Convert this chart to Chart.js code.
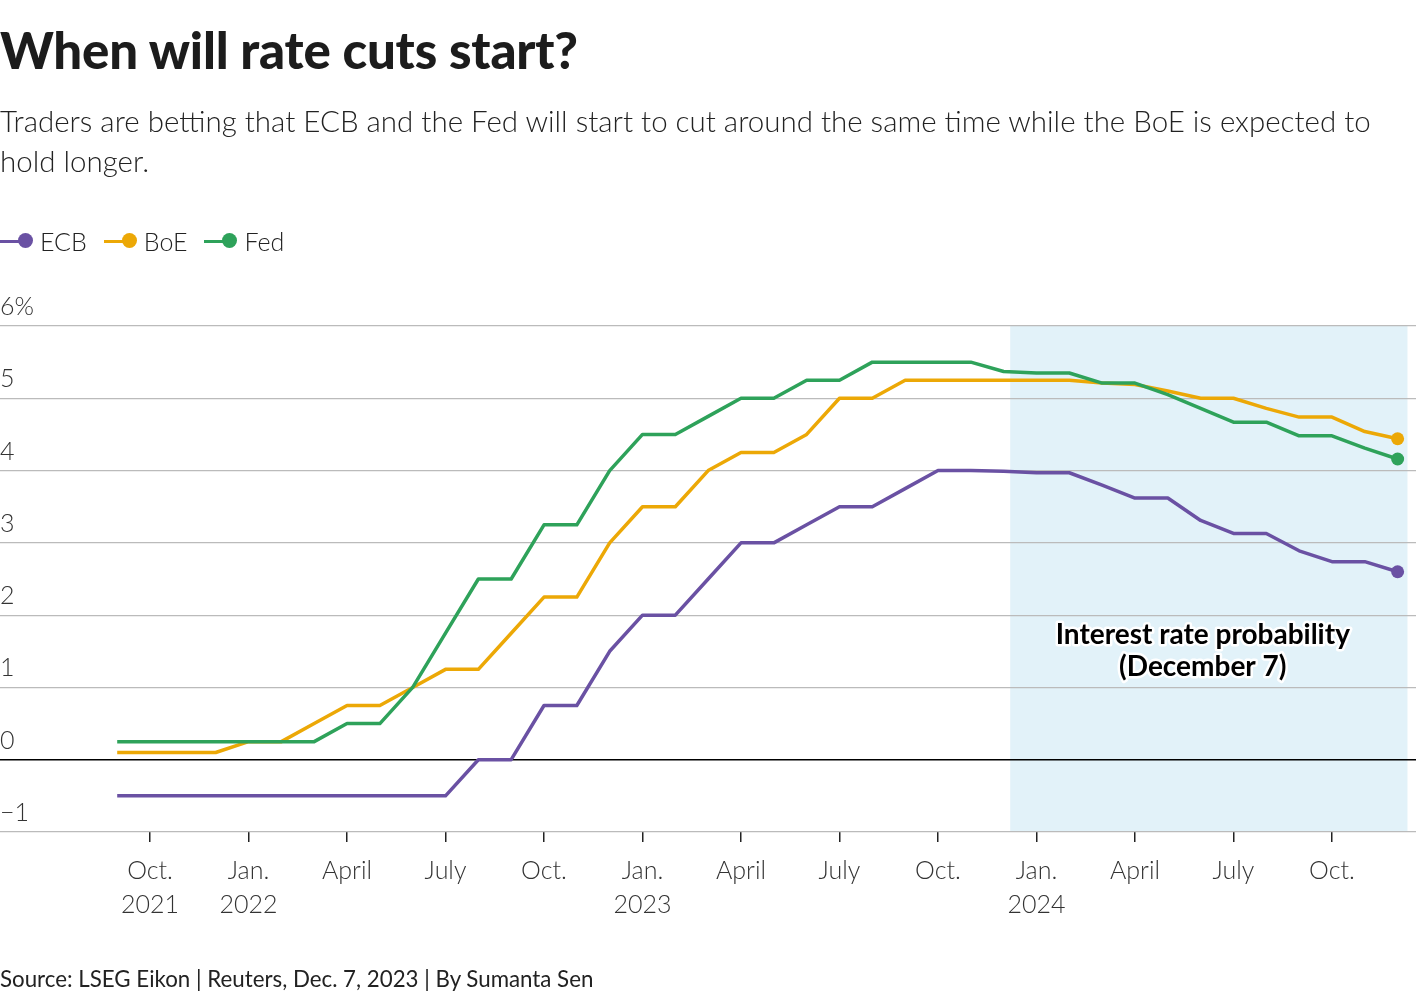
<!DOCTYPE html>
<html>
<head>
<meta charset="utf-8">
<script src="https://cdn.jsdelivr.net/npm/chart.js@4.4.1/dist/chart.umd.min.js"></script>
<style>
  html, body { margin: 0; padding: 0; background: #fff; }
  body { width: 1420px; height: 1000px; position: relative; overflow: hidden; font-family: Lato, "Noto Sans", sans-serif; color: #222; }
  #title { position: absolute; left: 0; top: 20px; font-size: 51px; font-weight: 900; color: #1c1c1c; line-height: 60px; white-space: nowrap; letter-spacing: -0.2px; }
  #subtitle { position: absolute; left: 0; top: 101px; width: 1410px; font-size: 29.5px; font-weight: 300; line-height: 40px; color: #222; }
  #legend { position: absolute; left: 0; top: 226px; display: flex; align-items: center; font-size: 25px; font-weight: 300; color: #222; }
  .item { display: flex; align-items: center; margin-right: 17px; }
  .mk { position: relative; width: 33px; height: 16px; margin-right: 7px; }
  .mk .ln { position: absolute; left: 0; top: 6.5px; width: 26px; height: 3.5px; }
  .mk .dt { position: absolute; left: 18px; top: 0; width: 15px; height: 15px; border-radius: 50%; }
  #source { position: absolute; left: 0; top: 965px; font-size: 22.3px; font-weight: 400; color: #222; white-space: nowrap; }
  #c { position: absolute; left: 0; top: 0; }
</style>
</head>
<body>
<canvas id="c" width="1420" height="1000"></canvas>
<div id="title">When will rate cuts start?</div>
<div id="subtitle">Traders are betting that ECB and the Fed will start to cut around the same time while the BoE is expected to hold longer.</div>
<div id="legend"></div>
<div id="source">Source: LSEG Eikon | Reuters, Dec. 7, 2023 | By Sumanta Sen</div>
<script>
// ---- Data ----
const months = ['2021-09','2021-10','2021-11','2021-12','2022-01','2022-02','2022-03','2022-04','2022-05','2022-06',
  '2022-07','2022-08','2022-09','2022-10','2022-11','2022-12','2023-01','2023-02','2023-03','2023-04',
  '2023-05','2023-06','2023-07','2023-08','2023-09','2023-10','2023-11','2023-12','2024-01','2024-02',
  '2024-03','2024-04','2024-05','2024-06','2024-07','2024-08','2024-09','2024-10','2024-11','2024-12'];
const ecb = [-0.5,-0.5,-0.5,-0.5,-0.5,-0.5,-0.5,-0.5,-0.5,-0.5,
  -0.5,0,0,0.75,0.75,1.5,2.0,2.0,2.5,3.0,
  3.0,3.25,3.5,3.5,3.75,4.0,4.0,3.99,3.97,3.97,
  3.8,3.62,3.62,3.31,3.13,3.13,2.89,2.74,2.74,2.6];
const boe = [0.1,0.1,0.1,0.1,0.25,0.25,0.5,0.75,0.75,1.0,
  1.25,1.25,1.75,2.25,2.25,3.0,3.5,3.5,4.0,4.25,
  4.25,4.5,5.0,5.0,5.25,5.25,5.25,5.25,5.25,5.25,
  5.21,5.19,5.1,5.0,5.0,4.86,4.74,4.74,4.54,4.44];
const fed = [0.25,0.25,0.25,0.25,0.25,0.25,0.25,0.5,0.5,1.0,
  1.75,2.5,2.5,3.25,3.25,4.0,4.5,4.5,4.75,5.0,
  5.0,5.25,5.25,5.5,5.5,5.5,5.5,5.37,5.35,5.35,
  5.21,5.21,5.05,4.86,4.67,4.67,4.48,4.48,4.31,4.16];
const seriesNames = ['ECB','BoE','Fed'];
const seriesColors = ['#6a51a3','#eca806','#2ea25a'];
const tickMonths = ['2021-10','2022-01','2022-04','2022-07','2022-10','2023-01','2023-04','2023-07','2023-10','2024-01','2024-04','2024-07','2024-10'];
const tickLabels = [['Oct.','2021'],['Jan.','2022'],'April','July','Oct.',['Jan.','2023'],'April','July','Oct.',['Jan.','2024'],'April','July','Oct.'];
const yTicks = [-1,0,1,2,3,4,5,6];
const shadeFrom = '2023-12-07';
const shadeTo = '2024-12-10';
const annotationLines = ['Interest rate probability','(December 7)'];
const annotationAt = {date: '2024-06-03', value: 1.5};

// ---- helpers ----
function monthIndex(s) {
  const p = s.split('-').map(Number);
  let v = (p[0] - 2021) * 12 + (p[1] - 1);
  if (p.length > 2) v += (p[2] - 1) / 30;
  return v;
}
const xs = months.map(monthIndex);
const tickVals = tickMonths.map(monthIndex);
const toPts = arr => arr.map((v, i) => ({x: xs[i], y: v}));

// legend
const lg = document.getElementById('legend');
seriesNames.forEach((n, i) => {
  const it = document.createElement('div'); it.className = 'item';
  it.innerHTML = '<span class="mk"><span class="ln" style="background:' + seriesColors[i] + '"></span><span class="dt" style="background:' + seriesColors[i] + '"></span></span><span>' + n + '</span>';
  lg.appendChild(it);
});

const shadePlugin = {
  id: 'shade',
  beforeDraw(chart) {
    const {ctx, scales: {x, y}} = chart;
    const x0 = x.getPixelForValue(monthIndex(shadeFrom));
    const x1 = x.getPixelForValue(monthIndex(shadeTo));
    const y0 = y.getPixelForValue(y.max), y1 = y.getPixelForValue(y.min);
    ctx.save();
    ctx.fillStyle = '#e2f2f9';
    ctx.fillRect(x0, y0, x1 - x0, y1 - y0);
    ctx.restore();
  },
  afterDraw(chart) {
    const {ctx, scales: {x, y}} = chart;
    const cx = x.getPixelForValue(monthIndex(annotationAt.date));
    const cy = y.getPixelForValue(annotationAt.value);
    ctx.save();
    ctx.font = 'bold 28px Lato';
    ctx.textAlign = 'center';
    ctx.textBaseline = 'middle';
    ctx.lineJoin = 'round';
    annotationLines.forEach((t, i) => {
      const yy = cy + (i - 0.5) * 32;
      ctx.strokeStyle = '#fff'; ctx.lineWidth = 5; ctx.strokeText(t, cx, yy);
      ctx.fillStyle = '#000'; ctx.fillText(t, cx, yy);
    });
    ctx.restore();
  }
};

Chart.defaults.font.family = 'Lato';
const mkDs = (data, i) => ({
  label: seriesNames[i], data: toPts(data), borderColor: seriesColors[i], backgroundColor: seriesColors[i],
  borderWidth: 3.5, tension: 0, fill: false,
  pointRadius: data.map((_, j) => j === data.length - 1 ? 6.5 : 0),
  pointHoverRadius: 0, pointBorderWidth: 0, borderJoinStyle: 'round', clip: false
});

new Chart(document.getElementById('c'), {
  type: 'line',
  data: { datasets: [mkDs(ecb, 0), mkDs(boe, 1), mkDs(fed, 2)].reverse() },
  options: {
    responsive: false, animation: false, devicePixelRatio: 1,
    layout: { autoPadding: false, padding: { left: 0, right: 4, top: 326, bottom: 68 } },
    plugins: { legend: { display: false }, tooltip: { enabled: false } },
    scales: {
      x: {
        type: 'linear', min: 4.43, max: 47.56,
        afterFit: s => { s.height = 100; },
        afterBuildTicks: s => { s.ticks = tickVals.map(v => ({value: v})); },
        border: { display: false },
        grid: { drawOnChartArea: false, drawTicks: true, tickLength: 10, color: '#222', lineWidth: 1.5 },
        ticks: {
          autoSkip: false, maxRotation: 0, padding: 12, color: '#333',
          font: { size: 25, weight: 300, lineHeight: 1.36 },
          callback: v => { const i = tickVals.indexOf(v); return i >= 0 ? tickLabels[i] : ''; }
        }
      },
      y: {
        min: -1, max: 6,
        afterFit: s => { s.width = 0; },
        afterBuildTicks: s => { s.ticks = yTicks.map(v => ({value: v})); },
        border: { display: false },
        grid: { drawTicks: false, color: c => c.tick && c.tick.value === 0 ? '#000' : '#bbb', lineWidth: c => c.tick && c.tick.value === 0 ? 1.5 : 1.2 },
        ticks: {
          mirror: true, padding: 0, labelOffset: -19, color: '#333',
          font: { size: 25, weight: 300 },
          callback: v => v === 6 ? '6%' : (v < 0 ? '\u2212' + Math.abs(v) : String(v))
        }
      }
    }
  },
  plugins: [shadePlugin]
});
</script>
</body>
</html>
